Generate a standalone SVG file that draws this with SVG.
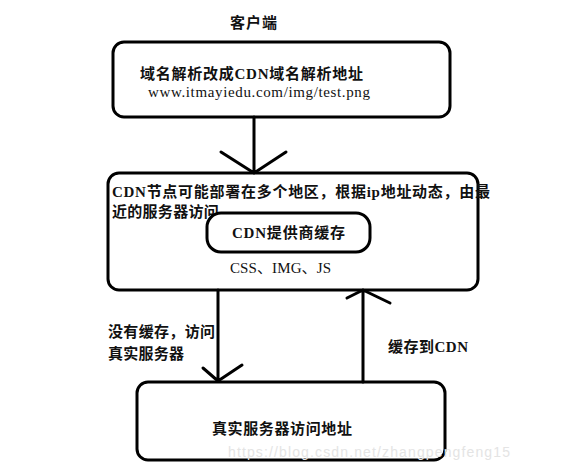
<svg xmlns="http://www.w3.org/2000/svg" width="585" height="462" viewBox="0 0 585 462">
<style>
.box{fill:#fff;stroke:#000;stroke-width:3}
.t{font-family:"Liberation Serif","Noto Sans CJK SC",serif;font-size:15px;font-weight:bold;fill:#111}
.c{fill:none;stroke:#000;stroke-width:3;stroke-linecap:round;stroke-linejoin:round}
.wm{font-family:"Liberation Sans",Arial,sans-serif;font-size:14px;fill:#e4e4e4}
</style>
<rect width="585" height="462" fill="#fff"/>
<g id="client-label"><text class="t" x="230" y="28" textLength="47">客户端</text></g>
<g id="node-client">
<rect class="box" x="113" y="42" width="337" height="75" rx="11"/>
<text class="t" x="140" y="79" textLength="223">域名解析改成CDN域名解析地址</text>
<text class="t" x="148" y="97" textLength="222" style="font-weight:normal">www.itmayiedu.com/img/test.png</text>
</g>
<g id="node-cdn">
<rect class="box" x="108" y="173" width="370" height="117" rx="11"/>
<text class="t" x="112" y="197" textLength="378">CDN节点可能部署在多个地区，根据ip地址动态，由最</text>
<text class="t" x="112" y="217" textLength="122">近的服务器访问。</text>
</g>
<g id="node-cache">
<rect class="box" x="207" y="213" width="163" height="39" rx="14"/>
<text class="t" x="232" y="238" textLength="113">CDN提供商缓存</text>
</g>
<g id="cdn-assets"><text class="t" x="230" y="273" textLength="101" style="font-weight:normal">CSS、IMG、JS</text></g>
<g id="node-server">
<rect class="box" x="137" y="382" width="308" height="78" rx="11"/>
<text class="t" x="212" y="434" textLength="140">真实服务器访问地址</text>
</g>
<g id="connectors">
<path class="c" d="M254 117V173M221 152L254 173L286 152"/>
<path class="c" d="M218 290V381M203 368L218 381L242 365"/>
<path class="c" d="M363 382V290M347 298L363 290L390 303"/>
<text class="t" x="108" y="337" textLength="107">没有缓存，访问</text>
<text class="t" x="108" y="359" textLength="76">真实服务器</text>
<text class="t" x="388" y="352" textLength="80">缓存到CDN</text>
</g>
<text class="wm" x="228" y="457" textLength="282">https://blog.csdn.net/zhangpengfeng15</text>
</svg>
